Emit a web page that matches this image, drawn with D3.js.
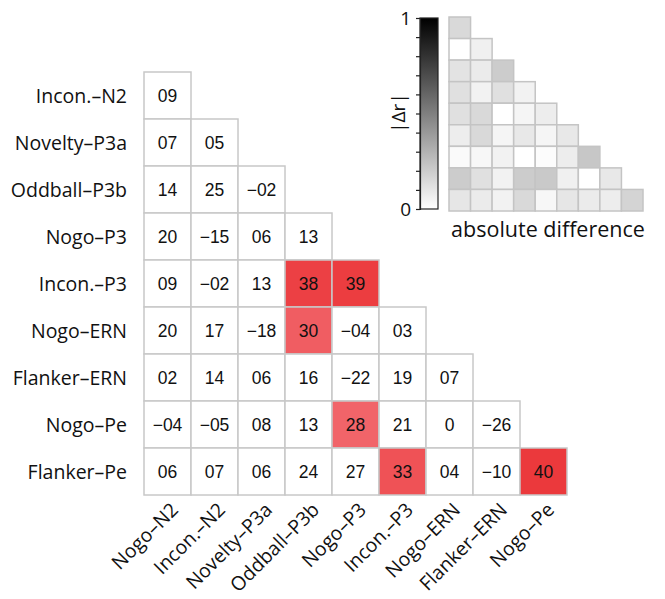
<!DOCTYPE html>
<html>
<head>
<meta charset="utf-8">
<script src="https://cdn.jsdelivr.net/npm/d3@7"></script>
<style>
  body { margin: 0; background: #fff; }
  svg text { fill: #111; }
  .lab { font-family: "Open Sans", sans-serif; font-size: 19.5px; }
  .num { font-family: "Liberation Sans", Arial, sans-serif; font-size: 17.5px; }
</style>
</head>
<body>
<svg id="chart" width="665" height="599"></svg>
<script>
// measures in the order of the columns
var colNames = ["Nogo–N2", "Incon.–N2", "Novelty–P3a", "Oddball–P3b", "Nogo–P3",
                "Incon.–P3", "Nogo–ERN", "Flanker–ERN", "Nogo–Pe"];
var rowNames = ["Incon.–N2", "Novelty–P3a", "Oddball–P3b", "Nogo–P3", "Incon.–P3",
                "Nogo–ERN", "Flanker–ERN", "Nogo–Pe", "Flanker–Pe"];

// correlations (x100), lower triangle, one list per row
var corr = [
  [9],
  [7, 5],
  [14, 25, -2],
  [20, -15, 6, 13],
  [9, -2, 13, 38, 39],
  [20, 17, -18, 30, -4, 3],
  [2, 14, 6, 16, -22, 19, 7],
  [-4, -5, 8, 13, 28, 21, 0, -26],
  [6, 7, 6, 24, 27, 33, 4, -10, 40]
];

// absolute difference |dr| for the inset
var absDiff = [
  [0.15],
  [0.00, 0.06],
  [0.11, 0.08, 0.20],
  [0.12, 0.05, 0.12, 0.05],
  [0.12, 0.15, 0.00, 0.04, 0.07],
  [0.07, 0.15, 0.04, 0.09, 0.04, 0.09],
  [0.02, 0.03, 0.05, 0.00, 0.01, 0.07, 0.22],
  [0.20, 0.12, 0.05, 0.20, 0.21, 0.06, 0.00, 0.09],
  [0.10, 0.08, 0.05, 0.15, 0.03, 0.10, 0.08, 0.07, 0.17]
];

var sigMin = 28;
var legendTicks = [0, 0.1, 0.2, 0.3, 0.4, 0.5, 0.6, 0.7, 0.8, 0.9, 1];

var svg = d3.select("#chart");

function flatten(m) {
  var out = [];
  m.forEach(function(row, i) {
    row.forEach(function(v, j) { out.push({r: i, c: j, v: v}); });
  });
  return out;
}

function fmt(v) {
  if (v == 0) return "0";
  var a = Math.abs(v);
  return (v < 0 ? "\u2212" : "") + (a < 10 ? "0" + a : a);
}

// ---------- main matrix ----------
var x = d3.scaleBand().domain(d3.range(colNames.length)).range([144, 567]);
var y = d3.scaleBand().domain(d3.range(rowNames.length)).range([72, 495]);

var red = d3.scaleLinear().domain([28, 40]).range(["#f16469", "#eb393c"]);

var cells = svg.append("g").selectAll("g").data(flatten(corr)).enter().append("g");

cells.append("rect")
  .attr("x", function(d) { return x(d.c); })
  .attr("y", function(d) { return y(d.r); })
  .attr("width", x.bandwidth())
  .attr("height", y.bandwidth())
  .attr("fill", function(d) { return d.v >= sigMin ? red(d.v) : "#fff"; })
  .attr("stroke", "#c8c8c8")
  .attr("stroke-width", 1.5);

cells.append("text")
  .attr("class", "num")
  .attr("x", function(d) { return x(d.c) + x.bandwidth() / 2; })
  .attr("y", function(d) { return y(d.r) + y.bandwidth() / 2; })
  .attr("dy", "0.36em")
  .attr("text-anchor", "middle")
  .text(function(d) { return fmt(d.v); });

svg.append("g").selectAll("text").data(rowNames).enter().append("text")
  .attr("class", "lab")
  .attr("x", 127)
  .attr("y", function(d, i) { return y(i) + y.bandwidth() / 2; })
  .attr("dy", "0.36em")
  .attr("text-anchor", "end")
  .text(function(d) { return d; });

svg.append("g").selectAll("text").data(colNames).enter().append("text")
  .attr("class", "lab")
  .attr("text-anchor", "end")
  .attr("transform", function(d, i) {
    return "translate(" + (x(i) + x.bandwidth() / 2 + 12) + "," + 511 + ") rotate(-45)";
  })
  .text(function(d) { return d; });

// ---------- inset: absolute difference ----------
var ix = d3.scaleBand().domain(d3.range(colNames.length)).range([449, 643]);
var iy = d3.scaleBand().domain(d3.range(rowNames.length)).range([17, 211]);
var grey = d3.scaleLinear().domain([0, 1]).range(["#ffffff", "#000000"]);

svg.append("g").selectAll("rect").data(flatten(absDiff)).enter().append("rect")
  .attr("x", function(d) { return ix(d.c); })
  .attr("y", function(d) { return iy(d.r); })
  .attr("width", ix.bandwidth())
  .attr("height", iy.bandwidth())
  .attr("fill", function(d) { return grey(d.v); })
  .attr("stroke", "#c4c4c4")
  .attr("stroke-width", 1.5);

svg.append("text")
  .attr("class", "lab")
  .attr("x", 548)
  .attr("y", 237)
  .attr("text-anchor", "middle")
  .style("font-size", "21.5px")
  .text("absolute difference");

// colour bar
var cb = d3.scaleLinear().domain([0, 1]).range([209, 18]);

var grad = svg.append("defs").append("linearGradient")
  .attr("id", "cbar").attr("x1", 0).attr("y1", 1).attr("x2", 0).attr("y2", 0);
grad.append("stop").attr("offset", 0).attr("stop-color", grey(0));
grad.append("stop").attr("offset", 1).attr("stop-color", grey(1));

svg.append("rect")
  .attr("x", 420).attr("y", cb(1))
  .attr("width", 18).attr("height", cb(0) - cb(1))
  .attr("fill", "url(#cbar)")
  .attr("stroke", "#222").attr("stroke-width", 1.2);

var cbAxis = svg.append("g")
  .attr("transform", "translate(420,0)")
  .call(d3.axisLeft(cb).tickValues(legendTicks).tickSize(4).tickPadding(5)
    .tickFormat(function(d) { return d == 0 || d == 1 ? d3.format("d")(d) : ""; }));
cbAxis.select(".domain").attr("stroke", "#222").attr("stroke-width", 1.2);
cbAxis.selectAll(".tick line").attr("stroke", "#222").attr("stroke-width", 1.2);
cbAxis.selectAll(".tick text")
  .attr("font-family", "Open Sans, sans-serif")
  .attr("font-size", "19px")
  .attr("fill", "#111");

svg.append("text")
  .attr("class", "lab")
  .attr("transform", "translate(405,113) rotate(-90)")
  .attr("text-anchor", "middle")
  .style("font-size", "19px")
  .text("|\u0394r|");
</script>
</body>
</html>
